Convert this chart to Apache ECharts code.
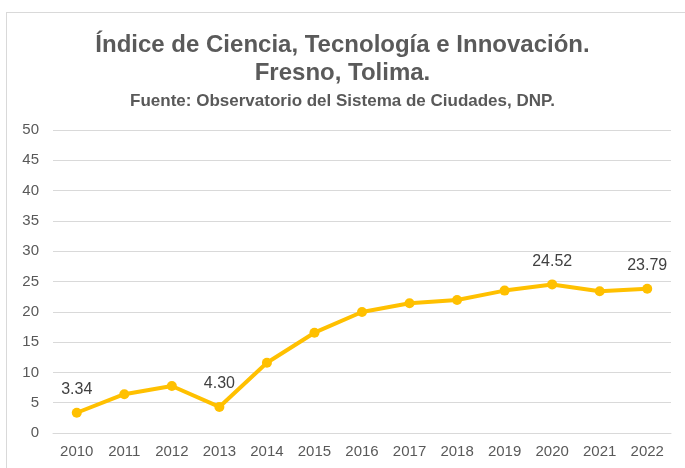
<!DOCTYPE html>
<html>
<head>
<meta charset="utf-8">
<script src="https://cdn.jsdelivr.net/npm/echarts@6/dist/echarts.min.js"></script>
<style>
  html, body { margin: 0; padding: 0; background: #fff; overflow: hidden; }
  #frame { position: absolute; left: 6px; top: 12px; width: 700px; height: 480px; border: 1px solid #d9d9d9; box-sizing: border-box; }
  #main { position: absolute; left: 0; top: 0; width: 685px; height: 468px; }
</style>
</head>
<body>
<div id="frame"></div>
<div id="main"></div>
<script>
var years = ['2010', '2011', '2012', '2013', '2014', '2015', '2016', '2017', '2018', '2019', '2020', '2021', '2022'];
var indice = [3.34, 6.4, 7.75, 4.30, 11.6, 16.55, 19.97, 21.4, 21.95, 23.5, 24.52, 23.4, 23.79];
// solo estos años llevan etiqueta
var labeled = ['2010', '2013', '2020', '2022'];

var chart = echarts.init(document.getElementById('main'));

var option = {
    animation: false,
    title: [
        {
            text: 'Índice de Ciencia, Tecnología e Innovación.\nFresno, Tolima.',
            left: 'center',
            top: 26,
            textStyle: { fontFamily: 'Liberation Sans', fontSize: 24, fontWeight: 'bold', color: '#5a5a5a', lineHeight: 28 }
        },
        {
            text: 'Fuente: Observatorio del Sistema de Ciudades, DNP.',
            left: 'center',
            top: 88,
            textStyle: { fontFamily: 'Liberation Sans', fontSize: 17, fontWeight: 'bold', color: '#595959' }
        }
    ],
    grid: { left: 53, right: 14, top: 130, bottom: 35 },
    xAxis: {
        type: 'category',
        data: years,
        boundaryGap: true,
        axisLine: { show: true, lineStyle: { color: '#d9d9d9' } },
        axisTick: { show: false },
        axisLabel: { color: '#595959', fontFamily: 'Liberation Sans', fontSize: 15, margin: 11 }
    },
    yAxis: {
        type: 'value',
        min: 0,
        max: 50,
        interval: 5,
        axisLine: { show: false },
        axisTick: { show: false },
        axisLabel: { color: '#595959', fontFamily: 'Liberation Sans', fontSize: 15, margin: 14 },
        splitLine: { lineStyle: { color: '#d9d9d9', width: 1 } }
    },
    series: [{
        type: 'line',
        data: indice.map(function(v, i) {
            return {
                value: v,
                label: { show: labeled.indexOf(years[i]) >= 0 }
            };
        }),
        symbol: 'circle',
        symbolSize: 10,
        lineStyle: { color: '#FFC000', width: 4 },
        itemStyle: { color: '#FFC000' },
        label: {
            position: 'top',
            distance: 10,
            color: '#404040',
            fontFamily: 'Liberation Sans',
            fontSize: 16,
            formatter: function(p) { return p.value.toFixed(2); }
        }
    }]
};
chart.setOption(option);
</script>
</body>
</html>
